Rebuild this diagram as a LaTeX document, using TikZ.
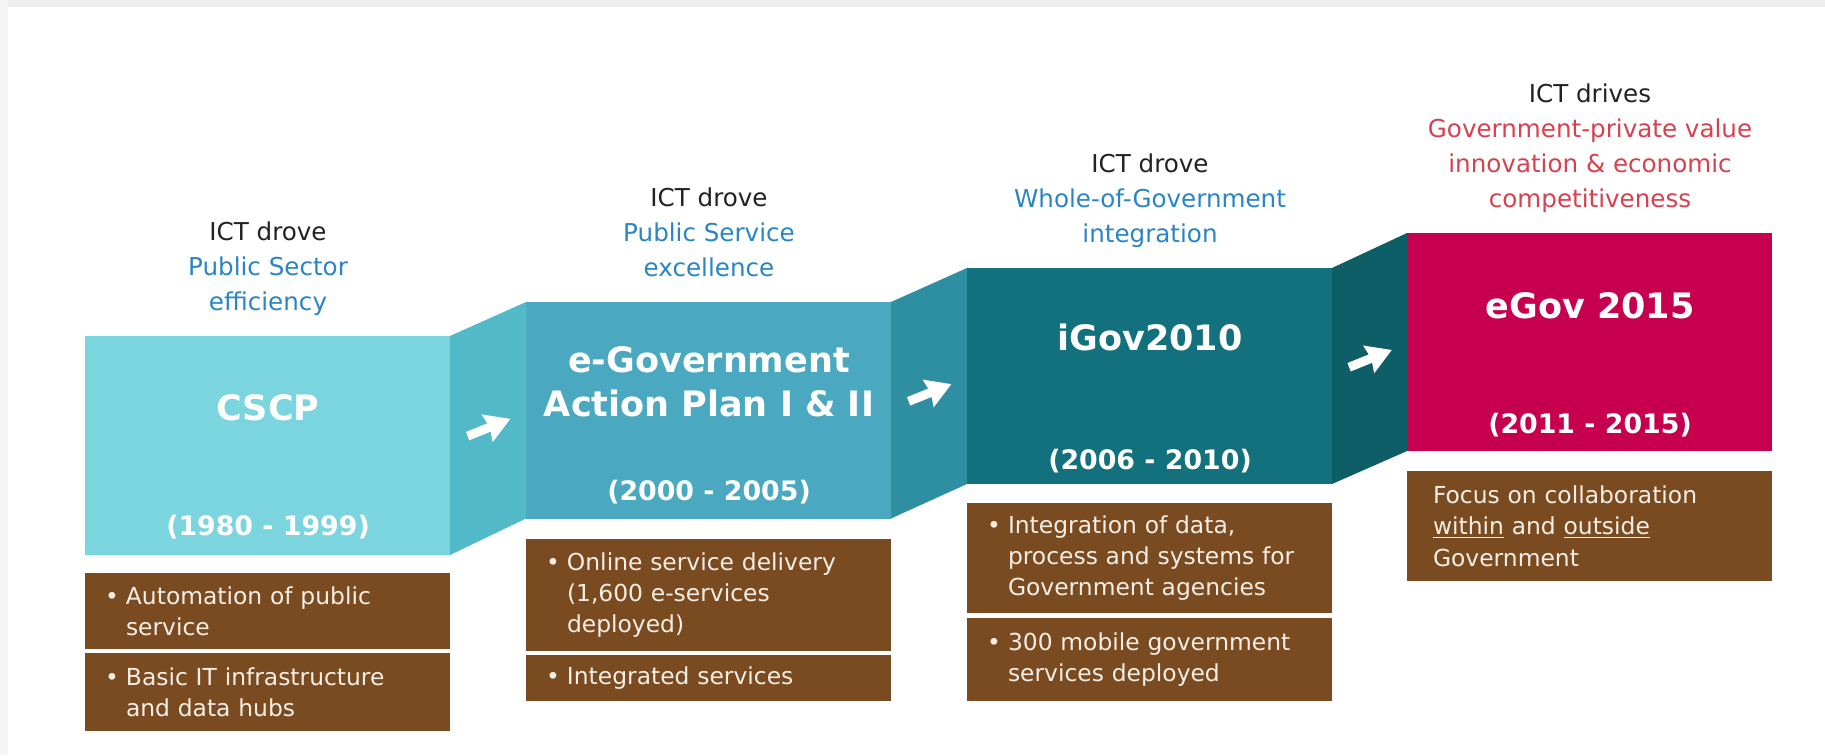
\documentclass[tikz,border=0pt]{standalone}
\usepackage{fontspec}
\setmainfont{DejaVu Sans}
\usetikzlibrary{calc}
\definecolor{cscpblue}{HTML}{7BD5DF}
\definecolor{egapblue}{HTML}{4AA9C1}
\definecolor{igovteal}{HTML}{12717D}
\definecolor{egovred}{HTML}{C6004F}
\definecolor{linkA}{HTML}{52B9C8}
\definecolor{linkB}{HTML}{2E8FA3}
\definecolor{linkC}{HTML}{0E5E67}
\definecolor{infobrown}{HTML}{7A4B21}
\definecolor{infotext}{HTML}{F6EEE4}
\definecolor{headblue}{HTML}{2A85C6}
\definecolor{headred}{HTML}{D9404F}
\definecolor{headgray}{HTML}{222222}
\newcommand{\fwdarrow}[1]{\fill[white, shift={(#1)}, rotate=22] (-22,-4.5) -- (1,-4.5) -- (-1,-15) -- (24,0) -- (-1,15) -- (1,4.5) -- (-22,4.5) -- cycle;}
\newcommand{\bul}{\makebox[10.5pt][l]{\textbullet}}
\newcommand{\ind}{\hspace*{10.5pt}}
\tikzset{
	stagebox/.style={inner sep=0pt, outer sep=0pt, minimum width=182.5pt, anchor=north west},
	infobox/.style={fill=infobrown, text=infotext, inner xsep=10pt, inner ysep=0pt, outer sep=0pt,
		text width=162.5pt, align=left, anchor=north west, font=\fontsize{11.7}{15.7}\selectfont},
	headtext/.style={align=center, inner sep=0pt, anchor=north, text=headgray, font=\fontsize{12.3}{17.5}\selectfont},
	titletext/.style={align=center, inner sep=0pt, text=white, font=\fontsize{17.5}{22}\selectfont\bfseries},
	yeartext/.style={inner sep=0pt, text=white, font=\fontsize{13.4}{16}\selectfont\bfseries}
}

\begin{document}
\begin{tikzpicture}[x=0.5pt, y=-0.5pt]
		%%%%% START %%%%%
		
		\useasboundingbox (0,0) rectangle (1825,755);
		\fill[white] (0,0) rectangle (1825,755);
		\fill[black!7] (0,0) rectangle (1825,7);
		\fill[black!4] (0,0) rectangle (8,755);
		
		\node[stagebox, fill=cscpblue, minimum height=109.5pt] (cscp) at (85,336) {};
		\node[stagebox, fill=egapblue, minimum height=108.25pt] (egap) at (526,302) {};
		\node[stagebox, fill=igovteal, minimum height=108pt] (igov) at (967,268) {};
		\node[stagebox, fill=egovred, minimum height=109pt] (egov) at (1407,233) {};
		
		\fill[linkA] (cscp.north east) -- (egap.north west) -- (egap.south west) -- (cscp.south east) -- cycle;
		\fill[linkB] (egap.north east) -- (igov.north west) -- (igov.south west) -- (egap.south east) -- cycle;
		\fill[linkC] (igov.north east) -- (egov.north west) -- (egov.south west) -- (igov.south east) -- cycle;
		
		\fwdarrow{$(cscp.east)!.5!(egap.west)$}
		\fwdarrow{$(egap.east)!.5!(igov.west)$}
		\fwdarrow{$(igov.east)!.5!(egov.west)$}
		
		\node[headtext] (cscpH) at (268,221) {ICT drove\\\textcolor{headblue}{Public Sector}\\\textcolor{headblue}{efficiency}};
		\node[headtext] (egapH) at (709,187) {ICT drove\\\textcolor{headblue}{Public Service}\\\textcolor{headblue}{excellence}};
		\node[headtext] (igovH) at (1150,153) {ICT drove\\\textcolor{headblue}{Whole-of-Government}\\\textcolor{headblue}{integration}};
		\node[headtext] (egovH) at (1590,83) {ICT drives\\\textcolor{headred}{Government-private value}\\\textcolor{headred}{innovation \& economic}\\\textcolor{headred}{competitiveness}};
		
		\node[titletext] (cscpT) at (268,408) {CSCP};
		\node[titletext] (egapT) at (709,382) {e-Government\\Action Plan I \& II};
		\node[titletext] (igovT) at (1150,337) {iGov2010};
		\node[titletext] (egovT) at (1590,306) {eGov 2015};
		
		\node[yeartext] (cscpY) at (268,527) {(1980 - 1999)};
		\node[yeartext] (egapY) at (709,492) {(2000 - 2005)};
		\node[yeartext] (igovY) at (1150,461) {(2006 - 2010)};
		\node[yeartext] (egovY) at (1590,425) {(2011 - 2015)};
		
		\node[infobox, minimum height=38pt] (cscpA) at (85,573) {\bul Automation of public\\\ind service};
		\node[infobox, minimum height=39pt] (cscpB) at (85,653) {\bul Basic IT infrastructure\\\ind and data hubs};
		
		\node[infobox, minimum height=56pt] (egapA) at (526,539) {\bul Online service delivery\\\ind (1,600 e-services\\\ind deployed)};
		\node[infobox, minimum height=23pt] (egapB) at (526,655) {\bul Integrated services};
		
		\node[infobox, minimum height=55pt] (igovA) at (967,503) {\bul Integration of data,\\\ind process and systems for\\\ind Government agencies};
		\node[infobox, minimum height=41.5pt] (igovB) at (967,618) {\bul 300 mobile government\\\ind services deployed};
		
		\node[infobox, minimum height=55pt, inner xsep=13pt, text width=156.5pt] (egovA) at (1407,471) {Focus on collaboration\\\underline{within} and \underline{outside}\\Government};
		
		%%%%% END %%%%%
\end{tikzpicture}
\end{document}
